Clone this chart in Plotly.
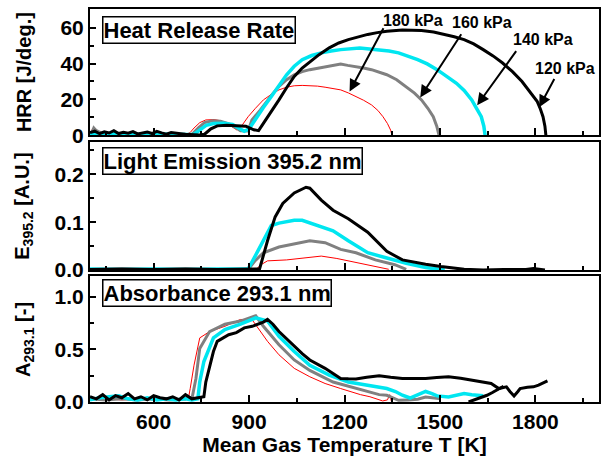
import plotly.graph_objects as go

# ---------------- data ----------------
# Heat release rate [J/deg.]
hrr_T_120 = [400,415,430,445,460,475,490,505,520,535,550,565,580,595,610,625,640,655,670,685,700,715,730,745,
             760,780,800,830,860,890,915,930,945,970,994,1018,1042,1067,1091,1120,1152,1182,1212,1242,1273,1303,
             1333,1382,1442,1480,1515,1545,1576,1606,1636,1667,1697,1728,1758,1782,1806,1816,1824,1830,1833]
hrr_V_120 = [1.5,2.2,0.8,1.9,1.2,2.5,0.9,1.6,1.1,2.0,0.7,1.4,1.8,0.9,2.1,1.3,0.6,1.5,1.0,0.8,0.5,0.3,0.2,0.1,
             0.5,3.5,5.2,5.6,5.3,5.0,3.0,2.5,6.6,13,19.7,26.5,32.8,37.5,41,45,48.8,51.5,53.4,55,56.3,57.3,
             58.1,58.7,58.5,57.6,56.3,55,53.4,51,47.8,44.3,40.3,35.5,30,24.5,18.75,14.5,10.3,5,0]

hrr_T_140 = [400,440,480,520,560,600,640,680,710,727,745,765,788,820,848,870,885,900,921,945,970,994,1018,1042,
             1067,1097,1127,1158,1188,1248,1309,1340,1370,1400,1430,1460,1491,1520,1552,1576,1600,1615,1630,1638,1642]
hrr_V_140 = [0.6,0.4,0.8,0.5,0.3,0.6,0.4,0.3,0.3,0.5,3,5.5,6.5,6.6,6.0,3.5,2.2,3.5,9.4,15.5,21.6,27.5,33.75,38.5,
             42.2,44.5,46,47,47.8,48.75,47.8,47,46,44.3,42.2,39.8,36.6,33,29,25,19.7,15,10.3,5,0]

hrr_T_160 = [405,412,420,440,480,520,560,600,640,680,705,721,740,760,785,810,835,860,873,897,909,935,958,976,994,
             1018,1042,1067,1091,1120,1152,1188,1210,1236,1260,1285,1310,1333,1364,1394,1420,1442,1462,1479,1490,1497]
hrr_V_160 = [1.0,4.0,2.5,0.8,0.5,0.4,0.6,0.3,0.5,0.3,0.3,0.5,4,7,8,7.8,6.5,4,2.5,2.3,8.4,14,19.7,23.5,27.2,
             31,33.75,35.5,36.6,37.5,38.4,39.75,39,38.4,37.5,36.6,35.3,33.75,31,27.2,23.5,19.7,15,10.3,5,0]

hrr_T_180 = [403,408,415,430,480,540,600,660,700,715,727,745,764,790,812,835,861,880,897,920,945,970,994,1018,1042,
             1067,1091,1115,1139,1164,1188,1212,1236,1260,1285,1305,1321,1335,1345,1349]
hrr_V_180 = [1.0,3.5,1.5,0.3,0.3,0.3,0.3,0.3,0.3,1.5,4,7,8.5,8.7,8,6,3,6,10.3,15,19.7,22.8,25.3,26.8,27.6,
             27.8,27.75,27.4,26.8,26.2,25.3,23.6,21.6,19.5,16.9,13.8,10.3,6.5,2.8,0]

# Light emission 395.2 nm [A.U.]
em_T_120 = [400,500,600,700,800,900,933,958,982,1006,1042,1079,1091,1127,1164,1212,1273,1333,1382,1455,1503,
            1576,1636,1700,1770,1794,1815,1830]
em_V_120 = [0.001,0.002,0.001,0.002,0.001,0.001,0.002,0.061,0.111,0.139,0.161,0.173,0.171,0.146,0.125,0.107,
            0.079,0.039,0.021,0.012,0.007,0.0014,0.0,0.001,0.001,0.003,0.001,0.0]

em_T_140 = [400,500,600,700,800,897,920,945,970,994,1042,1067,1115,1164,1212,1273,1333,1394,1455,1515]
em_V_140 = [0.002,0.001,0.002,0.001,0.002,0.002,0.03,0.061,0.093,0.098,0.104,0.104,0.093,0.082,0.061,0.036,
            0.025,0.014,0.005,0.0]

em_T_160 = [400,500,600,700,800,897,920,945,994,1042,1091,1139,1188,1236,1297,1358,1394]
em_V_160 = [0.001,0.002,0.001,0.002,0.001,0.001,0.02,0.036,0.048,0.055,0.061,0.057,0.043,0.036,0.021,0.011,0.0014]

em_T_180 = [400,600,800,921,940,958,1018,1091,1127,1176,1236,1297,1339]
em_V_180 = [0.001,0.001,0.001,0.001,0.012,0.019,0.021,0.026,0.029,0.024,0.016,0.007,0.0014]

# Absorbance 293.1 nm [-]
ab_T_120 = [400,420,440,460,480,500,520,540,560,580,600,620,640,660,680,700,720,740,758,764,776,788,800,818,836,
            860,885,910,933,945,958,975,994,1018,1042,1067,1091,1115,1139,1164,1188,1212,1236,1270,1309,1345,
            1382,1420,1455,1490,1527,1565,1600,1630,1661,1685,1700,1709,1720,1733,1745,1752,1775,1794,1810,1830,1838]
ab_V_120 = [0.05,0.03,0.07,0.02,0.06,0.04,0.08,0.03,0.05,0.02,0.06,0.04,0.03,0.05,0.02,0.07,0.03,0.04,0.05,0.19,
            0.35,0.48,0.577,0.61,0.64,0.66,0.705,0.72,0.75,0.76,0.785,0.74,0.67,0.6,0.53,0.46,0.40,0.36,0.32,
            0.27,0.224,0.22,0.218,0.235,0.25,0.235,0.224,0.224,0.224,0.232,0.24,0.225,0.208,0.195,0.176,0.128,
            0.14,0.144,0.10,0.058,0.10,0.128,0.14,0.144,0.16,0.19,0.2]
ab_T_120b = [1590,1606,1625,1648,1665,1685,1700]
ab_V_120b = [0.0,0.016,0.04,0.064,0.09,0.128,0.15]

ab_T_140 = [400,430,460,490,520,550,580,610,640,670,700,720,739,745,758,788,824,873,921,958,994,1042,1091,1152,
            1212,1273,1333,1360,1382,1406,1430,1455,1475,1491,1527,1550,1576,1600,1624,1636]
ab_V_140 = [0.02,0.04,0.05,0.06,0.03,0.02,0.04,0.02,0.03,0.02,0.03,0.02,0.03,0.19,0.385,0.61,0.69,0.74,0.80,
            0.77,0.625,0.48,0.35,0.256,0.19,0.16,0.128,0.1,0.064,0.038,0.07,0.10,0.08,0.058,0.048,0.06,0.08,
            0.07,0.064,0.06]

ab_T_160 = [400,450,500,550,600,650,700,721,733,745,776,824,873,921,945,994,1042,1091,1164,1236,1309,1333,1350,
            1370,1400,1430,1455,1475,1491,1503]
ab_V_160 = [0.03,0.02,0.03,0.02,0.03,0.02,0.03,0.04,0.224,0.51,0.67,0.74,0.77,0.82,0.72,0.545,0.40,0.30,0.19,
            0.128,0.07,0.064,0.04,0.016,0.02,0.026,0.048,0.04,0.032,0.03]

ab_T_180 = [400,450,500,550,600,650,700,709,715,727,745,776,824,873,909,927,958,994,1042,1091,1139,1188,1224,
            1250,1280,1300,1320,1335,1342,1348]
ab_V_180 = [0.02,0.03,0.02,0.03,0.02,0.03,0.02,0.03,0.128,0.35,0.61,0.67,0.72,0.785,0.785,0.705,0.577,0.449,
            0.32,0.24,0.176,0.128,0.09,0.07,0.05,0.03,0.01,0.02,0.07,0.0]

pressures = ["120 kPa", "140 kPa", "160 kPa", "180 kPa"]
colors = ["#000000", "#00e6f0", "#808080", "#ff0000"]
widths = [3, 3.5, 3, 1]

# pressure label positions (text) and arrow tail/head in data coordinates
lab_T = [1893, 1824, 1633, 1416]
lab_V = [37.2, 53.3, 62.8, 63.9]
arr_tail_T = [1862, 1743, 1570, 1325]
arr_tail_V = [32.2, 47.8, 57.2, 60.6]
arr_head_T = [1812, 1617, 1438, 1216]
arr_head_V = [15.6, 16.7, 21.1, 24.4]

# ---------------- figure ----------------
FONT = "Liberation Sans, Arial, sans-serif"
fig = go.Figure()

hrr = [(hrr_T_120, hrr_V_120), (hrr_T_140, hrr_V_140), (hrr_T_160, hrr_V_160), (hrr_T_180, hrr_V_180)]
em = [(em_T_120, em_V_120), (em_T_140, em_V_140), (em_T_160, em_V_160), (em_T_180, em_V_180)]
ab = [(ab_T_120, ab_V_120), (ab_T_140, ab_V_140), (ab_T_160, ab_V_160), (ab_T_180, ab_V_180)]

order = [3, 2, 1, 0]  # draw black on top
for panel, (data, xa, ya) in enumerate([(hrr, "x", "y"), (em, "x2", "y2"), (ab, "x3", "y3")]):
    for i in order:
        t, v = data[i]
        fig.add_trace(go.Scatter(x=t, y=v, mode="lines", xaxis=xa, yaxis=ya,
                                 line=dict(color=colors[i], width=widths[i]),
                                 name=pressures[i], showlegend=False))
fig.add_trace(go.Scatter(x=ab_T_120b, y=ab_V_120b, mode="lines", xaxis="x3", yaxis="y3",
                         line=dict(color=colors[0], width=widths[0]), showlegend=False))

tickfont = dict(family=FONT, size=21, color="black", weight="bold")
common_x = dict(range=[400, 2000], tick0=600, dtick=300, showline=True, mirror=True, linecolor="black",
                linewidth=2, ticks="inside", ticklen=7, tickwidth=1.5, tickcolor="black",
                showgrid=False, zeroline=False, automargin=False,
                minor=dict(dtick=150, ticks="inside", ticklen=4, tickwidth=1.5, tickcolor="black"))
common_y = dict(showline=True, mirror=True, linecolor="black", linewidth=2, ticks="inside", ticklen=6,
                tickwidth=1.5, tickcolor="black", showgrid=False, zeroline=False, tickfont=tickfont,
                automargin=False)

fig.update_layout(
    width=606, height=461, margin=dict(l=90, r=7, t=9, b=59, autoexpand=False),
    plot_bgcolor="white", paper_bgcolor="white",
    xaxis=dict(common_x, anchor="y", showticklabels=False),
    xaxis2=dict(common_x, anchor="y2", matches="x", showticklabels=False),
    xaxis3=dict(common_x, anchor="y3", matches="x", tickfont=dict(family=FONT, size=21, color="black", weight="bold"),
                title=dict(text="Mean Gas Temperature T [K]", standoff=4,
                           font=dict(family=FONT, size=21, color="black", weight="bold"))),
    yaxis=dict(common_y, domain=[0.679, 1.0], range=[0, 70.5], dtick=20,
               minor=dict(dtick=10, ticks="inside", ticklen=4, tickwidth=1.5, tickcolor="black")),
    yaxis2=dict(common_y, domain=[0.336, 0.662], range=[0, 0.268], dtick=0.1, tickformat=".1f",
                minor=dict(dtick=0.05, ticks="inside", ticklen=4, tickwidth=1.5, tickcolor="black")),
    yaxis3=dict(common_y, domain=[0.0, 0.321], range=[0, 1.2], dtick=0.5, tickformat=".1f",
                minor=dict(dtick=0.25, ticks="inside", ticklen=4, tickwidth=1.5, tickcolor="black")),
)

ann = []
# panel title boxes
box_font = dict(family=FONT, size=22, color="black", weight="bold")
for txt, ytop in [("Heat Release Rate", 0.983), ("Light Emission 395.2 nm", 0.648), ("Absorbance 293.1 nm", 0.313)]:
    ann.append(dict(text=txt, xref="paper", yref="paper", x=0.024, y=ytop, xanchor="left", yanchor="top",
                    showarrow=False, font=box_font, bordercolor="black", borderwidth=1.5, borderpad=0,
                    bgcolor="white"))
# y-axis titles
ytitle_font = dict(family=FONT, size=20, color="black", weight="bold")
for txt, yc in [("HRR [J/deg.]", 0.839), ("E<sub>395.2</sub> [A.U.]", 0.499), ("A<sub>293.1</sub> [-]", 0.16)]:
    ann.append(dict(text=txt, xref="paper", yref="paper", x=-0.13, y=yc, xanchor="center", yanchor="middle",
                    textangle=-90, showarrow=False, font=ytitle_font))
# pressure labels and arrows
lab_font = dict(family=FONT, size=16, color="black", weight="bold")
for i in range(4):
    ann.append(dict(text=pressures[i], xref="x", yref="y", x=lab_T[i], y=lab_V[i], showarrow=False,
                    font=lab_font, xanchor="center", yanchor="middle"))
    ann.append(dict(text="", xref="x", yref="y", axref="x", ayref="y", x=arr_head_T[i], y=arr_head_V[i],
                    ax=arr_tail_T[i], ay=arr_tail_V[i], showarrow=True, arrowhead=2, arrowsize=1.2,
                    arrowwidth=2, arrowcolor="black", standoff=0, startstandoff=0))
fig.update_layout(annotations=ann)

fig.write_html("out.html", config={"displayModeBar": False},
               post_script="document.body.style.margin='0';document.body.style.padding='0';")
